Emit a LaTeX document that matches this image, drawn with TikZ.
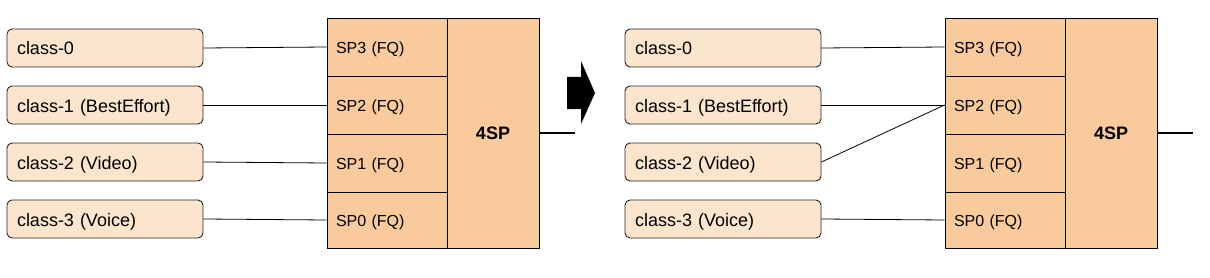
\documentclass[tikz,border=0pt]{standalone}
\usepackage{fontspec}
\setmainfont{Liberation Sans}
\definecolor{clsfill}{HTML}{FCE5CD}
\definecolor{spfill}{HTML}{F9CB9C}
\begin{document}
\begin{tikzpicture}[x=1pt,y=-1pt,
  cls/.style={draw=black!85, line width=0.9pt, fill=clsfill, rounded corners=5pt,
    minimum width=196pt, minimum height=38pt, text width=176pt, inner xsep=10pt,
    inner ysep=0pt, text height=14pt, text depth=0pt,
    align=left, font=\fontsize{18}{21}\selectfont},
  spcell/.style={draw=black, line width=0.9pt, fill=spfill,
    minimum width=120pt, text width=102pt, inner xsep=9pt,
    inner ysep=0pt, text height=13.5pt, text depth=0pt,
    align=left, font=\fontsize{16}{19}\selectfont},
  sched/.style={draw=black, line width=0.9pt, fill=spfill,
    minimum width=92pt, minimum height=230pt, inner sep=0pt,
    text height=13pt, text depth=0pt,
    font=\fontsize{18}{21}\selectfont\bfseries},
  conn/.style={draw=black, line width=0.8pt},
  outl/.style={draw=black, line width=1.2pt}]
\useasboundingbox (0,0) rectangle (1210,278);
% ---- left panel ----
\node[cls] (a0) at (105,48) {class-0};
\node[cls] (a1) at (105,105) {class-1 (BestEffort)};
\node[cls] (a2) at (105,162) {class-2 (Video)};
\node[cls] (a3) at (105,219) {class-3 (Voice)};
\node[spcell, minimum height=58pt] (as3) at (387,47) {SP3 (FQ)};
\node[spcell, minimum height=58pt] (as2) at (387,105) {SP2 (FQ)};
\node[spcell, minimum height=58pt] (as1) at (387,163) {SP1 (FQ)};
\node[spcell, minimum height=56pt] (as0) at (387,220) {SP0 (FQ)};
\node[sched] (asp) at (493,133) {4SP};
\coordinate (aout) at (575,133);
\draw[conn] (a0.east) -- (as3.west);
\draw[conn] (a1.east) -- (as2.west);
\draw[conn] (a2.east) -- (as1.west);
\draw[conn] (a3.east) -- (as0.west);
\draw[outl] (asp.east) -- (aout);
% ---- arrow ----
\fill[black] (567,77) -- (581,77) -- (581,61) -- (595,93) -- (581,124) -- (581,109) -- (567,109) -- cycle;
% ---- right panel ----
\node[cls] (b0) at (723,48) {class-0};
\node[cls] (b1) at (723,105) {class-1 (BestEffort)};
\node[cls] (b2) at (723,162) {class-2 (Video)};
\node[cls] (b3) at (723,219) {class-3 (Voice)};
\node[spcell, minimum height=58pt] (bs3) at (1005,47) {SP3 (FQ)};
\node[spcell, minimum height=58pt] (bs2) at (1005,105) {SP2 (FQ)};
\node[spcell, minimum height=58pt] (bs1) at (1005,163) {SP1 (FQ)};
\node[spcell, minimum height=56pt] (bs0) at (1005,220) {SP0 (FQ)};
\node[sched] (bsp) at (1111,133) {4SP};
\coordinate (bout) at (1193,133);
\draw[conn] (b0.east) -- (bs3.west);
\draw[conn] (b1.east) -- (bs2.west);
\draw[conn] (b2.east) -- (bs2.west);
\draw[conn] (b3.east) -- (bs0.west);
\draw[outl] (bsp.east) -- (bout);
\end{tikzpicture}
\end{document}
